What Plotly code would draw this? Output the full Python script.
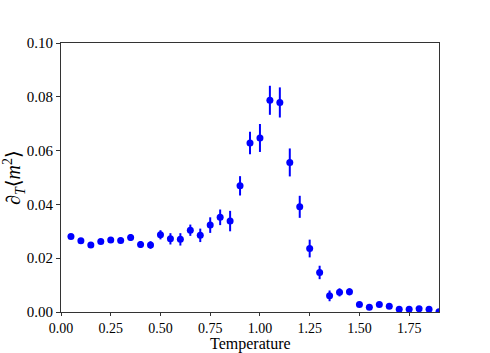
import plotly.graph_objects as go

temperature = [0.05, 0.10, 0.15, 0.20, 0.25, 0.30, 0.35, 0.40, 0.45, 0.50,
               0.55, 0.60, 0.65, 0.70, 0.75, 0.80, 0.85, 0.90, 0.95, 1.00,
               1.05, 1.10, 1.15, 1.20, 1.25, 1.30, 1.35, 1.40, 1.45, 1.50,
               1.55, 1.60, 1.65, 1.70, 1.75, 1.80, 1.85, 1.90]
dm2 = [0.0281, 0.0265, 0.0249, 0.0262, 0.0268, 0.0266, 0.0277, 0.0251, 0.0249, 0.0287,
       0.0272, 0.0270, 0.0304, 0.0285, 0.0323, 0.0352, 0.0338, 0.0469, 0.0628, 0.0647,
       0.0787, 0.0779, 0.0556, 0.0391, 0.0236, 0.0147, 0.0060, 0.0073, 0.0075, 0.0028,
       0.0018, 0.0028, 0.0021, 0.0010, 0.0010, 0.0012, 0.0010, 0.0001]
err = [0.0005, 0.0006, 0.0006, 0.0007, 0.0008, 0.0010, 0.0013, 0.0013, 0.0014, 0.0017,
       0.0021, 0.0023, 0.0021, 0.0025, 0.0029, 0.0029, 0.0038, 0.0036, 0.0042, 0.0052,
       0.0054, 0.0056, 0.0052, 0.0041, 0.0033, 0.0025, 0.0020, 0.0015, 0.0013, 0.0006,
       0.0005, 0.0005, 0.0005, 0.0004, 0.0004, 0.0004, 0.0004, 0.0003]

x_ticks = [0.0, 0.25, 0.5, 0.75, 1.0, 1.25, 1.5, 1.75]
y_ticks = [0.0, 0.02, 0.04, 0.06, 0.08, 0.10]

font = "Liberation Serif, DejaVu Serif, serif"

fig = go.Figure(go.Scatter(
    x=temperature, y=dm2, mode="markers",
    marker=dict(color="#0000ff", size=7),
    error_y=dict(type="data", array=err, visible=True, color="#0000ff",
                 thickness=2, width=0),
))

fig.update_layout(
    width=490, height=353,
    margin=dict(l=61, r=51, t=43, b=41, autoexpand=False),
    paper_bgcolor="white", plot_bgcolor="white",
    showlegend=False,
    font=dict(family=font, size=15, color="black"),
    annotations=[dict(
        text="Temperature", xref="paper", yref="paper", x=0.5, y=0,
        xanchor="center", yanchor="bottom", yshift=-42, showarrow=False,
        borderpad=0, font=dict(family=font, size=16, color="black"),
    )],
)
fig.update_xaxes(
    range=[0, 1.9], tickvals=x_ticks, tickformat=".2f",
    tickfont=dict(family=font, size=14, color="black"),
    showgrid=False, zeroline=False, automargin=False,
    showline=True, linecolor="#333333", linewidth=1, mirror=True,
    ticks="outside", ticklen=3, tickcolor="#333333",
)
fig.update_yaxes(
    range=[0, 0.1], tickvals=y_ticks, tickformat=".2f",
    tickfont=dict(family=font, size=15, color="black"),
    showgrid=False, zeroline=False, automargin=True,
    showline=True, linecolor="#333333", linewidth=1, mirror=True,
    ticks="outside", ticklen=4, tickcolor="#333333",
    title=dict(text="<i>∂<sub>T</sub></i>⟨<i>m</i><sup>2</sup>⟩",
               font=dict(family=font, size=20), standoff=6),
)

fig.write_html("out.html", config={"displayModeBar": False},
               post_script="document.body.style.margin='0';document.body.style.overflow='hidden';")
